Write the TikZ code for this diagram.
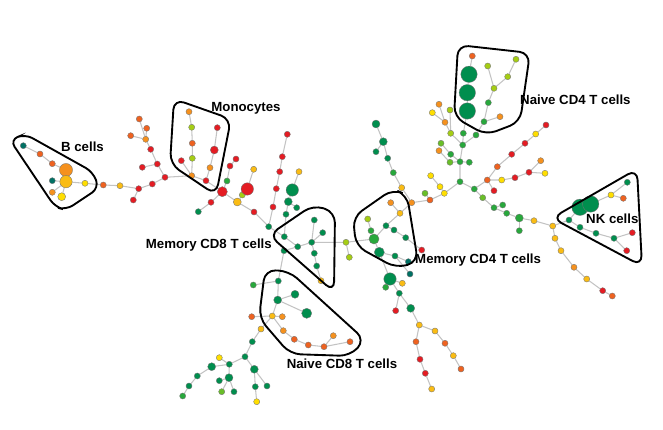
\documentclass[tikz,border=0pt]{standalone}
\usepackage{fontspec}
\setmainfont{Liberation Sans}
\usepackage{tikz}
\usetikzlibrary{backgrounds}

\definecolor{dkg}{RGB}{0,142,78}
\definecolor{tea}{RGB}{0,112,100}
\definecolor{mdg}{RGB}{40,168,60}
\definecolor{ltg}{RGB}{105,190,40}
\definecolor{ygr}{RGB}{165,205,20}
\definecolor{yel}{RGB}{255,222,0}
\definecolor{gld}{RGB}{250,188,20}
\definecolor{org}{RGB}{245,145,30}
\definecolor{dor}{RGB}{238,98,32}
\definecolor{rd}{RGB}{228,28,35}
\definecolor{lnk}{RGB}{195,195,195}

\begin{document}
\begin{tikzpicture}[x=0.03cm, y=-0.03cm,
    cell/.style={circle, draw=black!55, line width=0.3pt, inner sep=0pt, minimum size=5.2pt},
    cellm/.style={cell, minimum size=6.8pt},
    cellb/.style={cell, minimum size=8.6pt},
    cellx/.style={cell, minimum size=10.6pt},
    cellh/.style={cell, minimum size=14pt},
    link/.style={draw=lnk, line width=0.9pt},
    group/.style={draw=black, line width=1.6pt, rounded corners=9pt},
    tag/.style={font=\fontsize{11.3}{13}\selectfont\bfseries, inner sep=0pt}
]
\useasboundingbox (0,0) rectangle (663,430);

% ---- B cells ----
\node[cell, fill=tea] (bc1) at (23.3,145.7) {};
\node[cell, fill=dor] (bc2) at (40,154) {};
\node[cell, fill=dor] (bc3) at (52.3,163.7) {};
\node[cellx, fill=org, minimum size=11.2pt] (bc4) at (66,170) {};
\node[cellx, fill=gld] (bc5) at (66,181.7) {};
\node[cell, fill=tea] (bc6) at (52.3,180.7) {};
\node[cell, fill=org] (bc7) at (52.3,192.3) {};
\node[cellm, fill=yel] (bc8) at (61.7,196.7) {};
\node[cell, fill=yel] (bc9) at (85,183.3) {};

% ---- chain to the monocytes ----
\node[cell, fill=dor] (ln1) at (103.3,185) {};
\node[cell, fill=gld] (ln2) at (120,185.7) {};
\node[cell, fill=rd] (ln3) at (138.7,188.7) {};
\node[cell, fill=rd] (ln4) at (133.3,200) {};
\node[cell, fill=rd] (ln5) at (152.3,184) {};
\node[cell, fill=rd] (ln6) at (165,177.3) {};
\node[cell, fill=rd] (ln7) at (157.3,164) {};
\node[cell, fill=rd] (ln8) at (142.3,167.3) {};
\node[cell, fill=rd] (ln9) at (150.7,149.3) {};
\node[cell, fill=org] (ln10) at (145.7,139.3) {};
\node[cell, fill=dor] (ln11) at (146.7,128.3) {};
\node[cell, fill=dor] (ln12) at (139.3,119) {};
\node[cell, fill=dor] (ln13) at (130.7,135.7) {};

% ---- Monocytes ----
\node[cell, fill=org] (mo1) at (191.7,175.7) {};
\node[cell, fill=ygr] (mo2) at (192.3,158.3) {};
\node[cell, fill=dor] (mo3) at (192.3,143.3) {};
\node[cell, fill=ygr] (mo4) at (191.7,127.3) {};
\node[cell, fill=org] (mo5) at (189,111.7) {};
\node[cell, fill=rd] (mo6) at (181.3,160.7) {};
\node[cell, fill=rd] (mo7) at (206,180.7) {};
\node[cell, fill=org] (mo8) at (210,167.7) {};
\node[cellm, fill=rd] (mo9) at (214.3,150) {};
\node[cell, fill=rd] (mo10) at (217.3,127.7) {};

% ---- middle ----
\node[cellb, fill=rd] (md1) at (222.3,191.7) {};
\node[cell, fill=rd] (md2) at (211,202.3) {};
\node[cell, fill=dkg] (md3) at (198.3,211.7) {};
\node[cell, fill=mdg] (md4) at (227,181) {};
\node[cell, fill=rd] (md5) at (230,166) {};
\node[cell, fill=rd] (md6) at (236,159) {};
\node[cellm, fill=gld] (md7) at (237.3,202) {};
\node[cell, fill=ygr] (md8) at (242.3,195) {};
\node[cellx, fill=rd] (md9) at (247.3,189) {};
\node[cell, fill=gld] (md10) at (253.7,169.3) {};
\node[cell, fill=rd] (md11) at (254,212) {};
\node[cell, fill=dkg] (md12) at (268.7,226.7) {};
\node[cell, fill=rd] (md13) at (273,207) {};
\node[cell, fill=rd] (md14) at (276.3,188.7) {};
\node[cell, fill=rd] (md15) at (279.7,171.7) {};
\node[cell, fill=rd] (md16) at (282.3,156.7) {};
\node[cell, fill=rd] (md17) at (287.3,134.3) {};
\node[cell, fill=gld] (md18) at (299,171.7) {};
\node[cellx, fill=dkg] (md19) at (292.3,190) {};
\node[cellm, fill=dkg] (md20) at (288.3,201.7) {};
\node[cell, fill=dkg] (md21) at (296.7,207.7) {};
\node[cell, fill=dkg] (md22) at (286,214.3) {};

% ---- Memory CD8 T cells ----
\node[cell, fill=dkg] (m8a) at (284.3,236.7) {};
\node[cell, fill=dkg] (m8b) at (297.7,246.7) {};
\node[cell, fill=dkg] (m8c) at (311.7,242.3) {};
\node[cell, fill=dkg] (m8d) at (314.3,220) {};
\node[cell, fill=dkg] (m8e) at (322.7,232.7) {};
\node[cell, fill=dkg] (m8f) at (314.3,253.3) {};
\node[cell, fill=dkg] (m8g) at (316.7,266) {};
\node[cell, fill=gld] (m8h) at (321,280.7) {};
\node[cell, fill=dkg] (m8i) at (284,250.7) {};
\node[cell, fill=ygr] (lk1) at (346,242.3) {};
\node[cell, fill=ygr] (lk2) at (349.3,257.3) {};

% ---- Naive CD8 T cells ----
\node[cell, fill=dkg] (n8a) at (278.3,281) {};
\node[cell, fill=mdg] (n8b) at (253.3,285) {};
\node[cellm, fill=dkg] (n8c) at (295,294.3) {};
\node[cellm, fill=dkg] (n8d) at (277.7,300) {};
\node[cellb, fill=dkg] (n8e) at (306.7,313.3) {};
\node[cell, fill=gld] (n8f) at (272.3,316) {};
\node[cell, fill=dor] (n8g) at (251.7,316.7) {};
\node[cell, fill=org] (n8h) at (282.3,316.7) {};
\node[cell, fill=org] (n8i) at (283.3,330.7) {};
\node[cell, fill=dor] (n8j) at (294.3,339.3) {};
\node[cell, fill=dor] (n8k) at (308.3,345) {};
\node[cell, fill=dor] (n8l) at (324,346.7) {};
\node[cell, fill=org] (n8m) at (333.3,335.7) {};
\node[cell, fill=dor] (n8n) at (350,341.7) {};

% ---- lower left ----
\node[cell, fill=gld] (ll1) at (261,329) {};
\node[cell, fill=dkg] (ll2) at (252.3,341.7) {};
\node[cell, fill=dkg] (ll3) at (245,356.7) {};
\node[cell, fill=dkg] (ll4) at (229.3,364.3) {};
\node[cell, fill=yel] (ll5) at (219.3,357.7) {};
\node[cellm, fill=dkg] (ll6) at (211.7,366.7) {};
\node[cell, fill=dkg] (ll7) at (197.3,376) {};
\node[cell, fill=dkg] (ll8) at (189,386) {};
\node[cell, fill=mdg] (ll9) at (182.7,396) {};
\node[cellm, fill=dkg] (ll10) at (229,377.7) {};
\node[cell, fill=dkg] (ll11) at (219.3,380.7) {};
\node[cell, fill=ltg] (ll12) at (221.7,391.7) {};
\node[cell, fill=dkg] (ll13) at (234,391.7) {};
\node[cellm, fill=dkg] (ll14) at (254.3,369.3) {};
\node[cell, fill=dkg] (ll15) at (255.3,386.7) {};
\node[cell, fill=dkg] (ll16) at (267,386) {};
\node[cell, fill=yel] (ll17) at (256.7,401.7) {};

% ---- Memory CD4 T cells ----
\node[cell, fill=ygr] (m4a) at (367.7,219) {};
\node[cell, fill=mdg] (m4b) at (371,230.7) {};
\node[cellb, fill=mdg] (m4c) at (374,239) {};
\node[cell, fill=dkg] (m4d) at (386,225.7) {};
\node[cell, fill=dkg] (m4e) at (394,230) {};
\node[cell, fill=dkg] (m4f) at (405.7,237.7) {};
\node[cell, fill=rd] (m4g) at (421.7,250) {};
\node[cellb, fill=dkg] (m4h) at (379.3,252.3) {};
\node[cell, fill=dkg] (m4i) at (395,256) {};
\node[cell, fill=tea] (m4j) at (408.3,261.7) {};
\node[cell, fill=tea] (m4k) at (410,274) {};

% ---- lower right ----
\node[cellx, fill=dkg] (lr1) at (390,279) {};
\node[cell, fill=mdg] (lr2) at (385.7,287.3) {};
\node[cell, fill=gld] (lr3) at (402.3,283.3) {};
\node[cell, fill=dkg] (lr4) at (399.3,293.3) {};
\node[cell, fill=rd] (lr5) at (395.7,310.7) {};
\node[cellm, fill=dkg] (lr6) at (410.7,308.3) {};
\node[cell, fill=gld] (lr7) at (419.3,325) {};
\node[cell, fill=gld] (lr8) at (435,331) {};
\node[cell, fill=dor] (lr9) at (445,343.3) {};
\node[cell, fill=gld] (lr10) at (453.3,355.7) {};
\node[cell, fill=dor] (lr11) at (461,369) {};
\node[cell, fill=dor] (lr12) at (416,341.7) {};
\node[cell, fill=rd] (lr13) at (420,359.3) {};
\node[cell, fill=rd] (lr14) at (425.3,373.3) {};
\node[cell, fill=gld] (lr15) at (431.7,389) {};

% ---- centre ----
\node[cell, fill=gld] (cc1) at (400,213.3) {};
\node[cell, fill=org] (cc2) at (390.7,202.7) {};
\node[cell, fill=org] (cc3) at (411.7,202.7) {};
\node[cell, fill=gld] (cc4) at (401.7,187.7) {};
\node[cell, fill=mdg] (cc5) at (393.3,172.7) {};
\node[cell, fill=dkg] (cc6) at (387.7,158.3) {};
\node[cellm, fill=dkg] (cc7) at (383.3,141.7) {};
\node[cell, fill=dkg] (cc8) at (376,151.7) {};
\node[cellm, fill=dkg] (cc9) at (376,124) {};
\node[cell, fill=dor] (cc10) at (430,200) {};
\node[cell, fill=ltg] (cc11) at (425,193.3) {};
\node[cell, fill=yel] (cc12) at (444.3,193.3) {};
\node[cell, fill=yel] (cc13) at (440,186.7) {};
\node[cell, fill=yel] (cc14) at (430.7,175.7) {};

% ---- upper ----
\node[cell, fill=mdg] (up1) at (460,181.7) {};
\node[cell, fill=mdg] (up2) at (460,161.7) {};
\node[cell, fill=mdg] (up3) at (450.7,154.3) {};
\node[cell, fill=ltg] (up4) at (441,143.3) {};
\node[cell, fill=ltg] (up5) at (450,162.3) {};
\node[cell, fill=org] (up6) at (439,150.7) {};
\node[cell, fill=mdg] (up7) at (469.3,162.3) {};
\node[cell, fill=mdg] (up8) at (462.7,145) {};
\node[cell, fill=mdg] (up9) at (463.3,133.3) {};
\node[cell, fill=ygr] (up10) at (450.7,133.3) {};
\node[cell, fill=org] (up11) at (445,122.3) {};
\node[cell, fill=org] (up12) at (439,104.3) {};
\node[cell, fill=yel] (up13) at (432.3,112.7) {};
\node[cell, fill=ygr] (up14) at (450,110) {};
\node[cell, fill=mdg] (up15) at (476,135) {};

% ---- Naive CD4 T cells ----
\node[cell, fill=dor] (n4a) at (472.3,56) {};
\node[cellh, fill=dkg] (n4b) at (469,74.3) {};
\node[cellh, fill=dkg] (n4c) at (467.3,92.7) {};
\node[cellh, fill=dkg] (n4d) at (467.3,111) {};
\node[cell, fill=mdg] (n4e) at (484,121.7) {};
\node[cell, fill=mdg] (n4f) at (488.3,102.7) {};
\node[cell, fill=ygr] (n4g) at (494,88.3) {};
\node[cell, fill=ygr] (n4h) at (487.7,66) {};
\node[cell, fill=ygr] (n4i) at (507.7,76.7) {};
\node[cell, fill=ygr] (n4j) at (516,59.3) {};
\node[cell, fill=org] (n4k) at (500,116.7) {};

% ---- right ----
\node[cell, fill=mdg] (rt1) at (474.3,189) {};
\node[cell, fill=dor] (rt2) at (487.3,180) {};
\node[cell, fill=yel] (rt3) at (501.7,180) {};
\node[cell, fill=rd] (rt4) at (515,177.7) {};
\node[cell, fill=rd] (rt5) at (529,172.3) {};
\node[cell, fill=yel] (rt6) at (545,173.3) {};
\node[cell, fill=org] (rt7) at (540.7,160.7) {};
\node[cell, fill=rd] (rt8) at (494,190.7) {};
\node[cell, fill=dor] (rt9) at (497.3,166.7) {};
\node[cell, fill=rd] (rt10) at (511.7,154.3) {};
\node[cell, fill=rd] (rt11) at (525,143.3) {};
\node[cell, fill=yel] (rt12) at (535.7,134) {};
\node[cell, fill=rd] (rt13) at (546,125) {};
\node[cell, fill=ltg] (rt14) at (482.7,197.7) {};
\node[cell, fill=mdg] (rt15) at (494,207.7) {};
\node[cell, fill=mdg] (rt16) at (502.7,205) {};
\node[cell, fill=mdg] (rt17) at (506.7,213.3) {};
\node[cellm, fill=mdg] (rt18) at (519.3,218) {};
\node[cell, fill=mdg] (rt19) at (519.3,230.7) {};
\node[cell, fill=gld] (rt20) at (534,220.7) {};
\node[cell, fill=gld] (rt21) at (552.7,226) {};
\node[cell, fill=gld] (rt22) at (555,238.3) {};
\node[cell, fill=gld] (rt23) at (561,250.7) {};
\node[cell, fill=org] (rt24) at (574,267.3) {};
\node[cell, fill=gld] (rt25) at (586.7,279) {};
\node[cell, fill=rd] (rt26) at (602.7,290.7) {};
\node[cell, fill=dor] (rt27) at (612.3,296) {};

% ---- NK cells ----
\node[cell, fill=dkg] (nk1) at (569,220) {};
\node[cellh, fill=dkg] (nk2) at (580,207.3) {};
\node[cellh, fill=dkg] (nk3) at (590.7,204) {};
\node[cell, fill=yel] (nk4) at (611,195) {};
\node[cell, fill=dkg] (nk5) at (627.3,182.3) {};
\node[cell, fill=dor] (nk6) at (623.3,198.3) {};
\node[cell, fill=dkg] (nk7) at (580,227.3) {};
\node[cell, fill=dkg] (nk8) at (596,233.3) {};
\node[cell, fill=dkg] (nk9) at (614,238.3) {};
\node[cell, fill=rd] (nk10) at (632.3,232.7) {};
\node[cell, fill=rd] (nk11) at (626.7,250.7) {};

% links
\begin{scope}[on background layer]
\draw[link] (bc1) -- (bc2) -- (bc3) -- (bc4) -- (bc5);
\draw[link] (bc5) -- (bc6);
\draw[link] (bc5) -- (bc7);
\draw[link] (bc5) -- (bc8);
\draw[link] (bc5) -- (bc9) -- (ln1) -- (ln2) -- (ln3) -- (ln5) -- (ln6) -- (mo1);
\draw[link] (ln3) -- (ln4);
\draw[link] (ln6) -- (ln7) -- (ln9) -- (ln10) -- (ln11);
\draw[link] (ln10) -- (ln12);
\draw[link] (ln10) -- (ln13);
\draw[link] (ln7) -- (ln8);
\draw[link] (mo1) -- (mo2) -- (mo3) -- (mo4) -- (mo5);
\draw[link] (mo1) -- (mo6);
\draw[link] (mo1) -- (mo7) -- (mo8) -- (mo9) -- (mo10);
\draw[link] (mo7) -- (md1) -- (md2) -- (md3);
\draw[link] (md1) -- (md4) -- (md5) -- (md6);
\draw[link] (md1) -- (md7) -- (md8) -- (md9) -- (md10);
\draw[link] (md7) -- (md11) -- (md12) -- (md13) -- (md14) -- (md15) -- (md16) -- (md17);
\draw[link] (md12) -- (m8a) -- (md22) -- (md20) -- (md19) -- (md18);
\draw[link] (md20) -- (md21);
\draw[link] (m8a) -- (m8b) -- (m8c) -- (m8d);
\draw[link] (m8c) -- (m8e);
\draw[link] (m8c) -- (m8f) -- (m8g) -- (m8h);
\draw[link] (m8b) -- (m8i) -- (n8a);
\draw[link] (m8c) -- (lk1) -- (m4c);
\draw[link] (lk1) -- (lk2);
\draw[link] (n8b) -- (n8a) -- (n8d) -- (n8c);
\draw[link] (n8d) -- (n8e);
\draw[link] (n8d) -- (n8f) -- (n8g);
\draw[link] (n8f) -- (n8h);
\draw[link] (n8f) -- (n8i) -- (n8j) -- (n8k) -- (n8l) -- (n8m);
\draw[link] (n8l) -- (n8n);
\draw[link] (n8f) -- (ll1) -- (ll2) -- (ll3) -- (ll4) -- (ll6) -- (ll7) -- (ll8) -- (ll9);
\draw[link] (ll4) -- (ll5);
\draw[link] (ll4) -- (ll10) -- (ll11);
\draw[link] (ll10) -- (ll12);
\draw[link] (ll10) -- (ll13);
\draw[link] (ll3) -- (ll14) -- (ll15) -- (ll17);
\draw[link] (ll14) -- (ll16);
\draw[link] (m4a) -- (m4b) -- (m4c) -- (m4d) -- (cc1);
\draw[link] (m4d) -- (m4e) -- (m4f) -- (m4g);
\draw[link] (m4c) -- (m4h) -- (m4i) -- (m4j);
\draw[link] (m4i) -- (m4k);
\draw[link] (m4h) -- (lr1) -- (lr2);
\draw[link] (lr1) -- (lr3);
\draw[link] (lr1) -- (lr4) -- (lr6) -- (lr7) -- (lr8) -- (lr9) -- (lr10) -- (lr11);
\draw[link] (lr4) -- (lr5);
\draw[link] (lr7) -- (lr12) -- (lr13) -- (lr14) -- (lr15);
\draw[link] (cc1) -- (cc2);
\draw[link] (cc1) -- (cc3) -- (cc10) -- (cc12) -- (up1);
\draw[link] (cc3) -- (cc4) -- (cc5) -- (cc6) -- (cc7) -- (cc9);
\draw[link] (cc7) -- (cc8);
\draw[link] (cc10) -- (cc11);
\draw[link] (cc12) -- (cc13) -- (cc14);
\draw[link] (up1) -- (up2) -- (up8) -- (up9) -- (n4d) -- (n4c) -- (n4b) -- (n4a);
\draw[link] (up2) -- (up3) -- (up4);
\draw[link] (up2) -- (up5) -- (up6);
\draw[link] (up2) -- (up7);
\draw[link] (up8) -- (up15) -- (n4e);
\draw[link] (up8) -- (up10) -- (up11) -- (up12);
\draw[link] (up11) -- (up13);
\draw[link] (up10) -- (up14);
\draw[link] (n4e) -- (n4f) -- (n4g) -- (n4h);
\draw[link] (n4g) -- (n4i) -- (n4j);
\draw[link] (n4e) -- (n4k);
\draw[link] (up1) -- (rt1) -- (rt2) -- (rt3) -- (rt4) -- (rt5) -- (rt6);
\draw[link] (rt5) -- (rt7);
\draw[link] (rt2) -- (rt8);
\draw[link] (rt2) -- (rt9) -- (rt10) -- (rt11) -- (rt12) -- (rt13);
\draw[link] (rt1) -- (rt14) -- (rt15) -- (rt17) -- (rt18) -- (rt20) -- (rt21) -- (nk1);
\draw[link] (rt15) -- (rt16);
\draw[link] (rt18) -- (rt19);
\draw[link] (rt21) -- (rt22) -- (rt23) -- (rt24) -- (rt25) -- (rt26) -- (rt27);
\draw[link] (nk1) -- (nk2) -- (nk3) -- (nk4) -- (nk5);
\draw[link] (nk4) -- (nk6);
\draw[link] (nk1) -- (nk7) -- (nk8) -- (nk9) -- (nk10);
\draw[link] (nk9) -- (nk11);
\end{scope}

% ---- groups ----
\draw[group, rounded corners=7pt] (10,140) -- (25,134) -- (93,172) -- (99,188) -- (66,210) -- (55,207) -- cycle;
\draw[group] (174,99) -- (231,119) -- (216,195) -- (170,164) -- cycle;
\draw[group] (458,45) -- (530,53) -- (520,122) -- (486,135) -- (454,117) -- cycle;
\draw[group] (269,235) -- (313,205) -- (335,212) -- (334,292) -- cycle;
\draw[group] (353,217) -- (393,189) -- (407,195) -- (418,262) -- (396,268) -- (356,246) -- cycle;
\draw[group] (265,270) -- (289,271) -- (365,340) -- (350,356) -- (290,354) -- (259,318) -- cycle;
\draw[group] (552,218) -- (637,169) -- (642,266) -- cycle;

% ---- labels ----
\node[tag] (lbB) at (82.5,146.7) {B cells};
\node[tag] (lbMo) at (246,108.3) {Monocytes};
\node[tag, anchor=west] (lbN4) at (520,100) {Naive CD4 T cells};
\node[tag, anchor=east] (lbM8) at (272,245) {Memory CD8 T cells};
\node[tag, anchor=west] (lbM4) at (415,260) {Memory CD4 T cells};
\node[tag] (lbN8) at (342,363.3) {Naive CD8 T cells};
\node[tag, anchor=west] (lbNK) at (586,219) {NK cells};
\end{tikzpicture}
\end{document}
